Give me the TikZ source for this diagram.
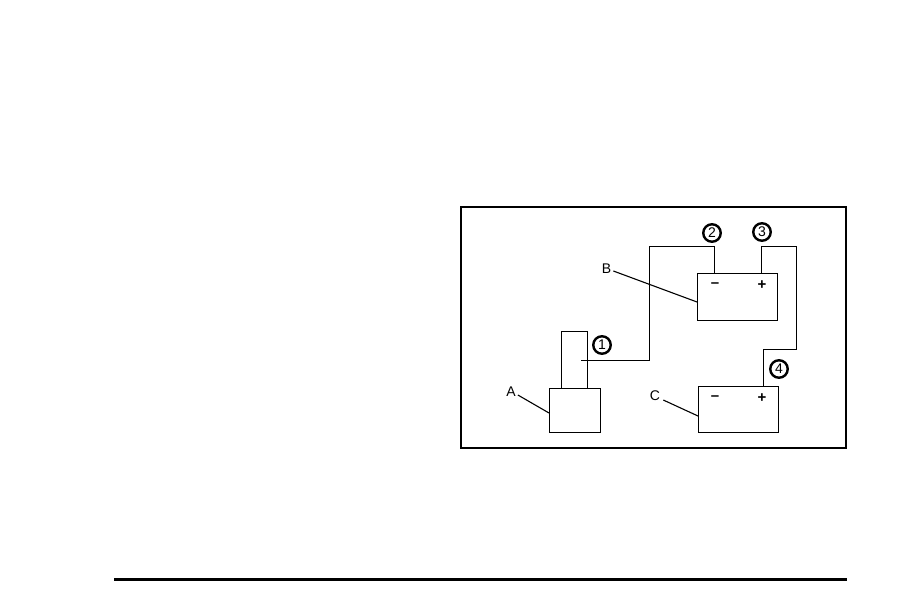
\documentclass[tikz,border=0pt]{standalone}
\usepackage{fontspec}
\setmainfont{Liberation Sans}
\begin{document}
\begin{tikzpicture}[x=1pt,y=-1pt,
  boxed/.style={draw=black,line width=1pt,inner sep=0pt,outer sep=0pt,minimum width=#1},
  wire/.style={draw=black,line width=1pt,line join=miter},
  leader/.style={draw=black,line width=1.1pt},
  callout/.style={circle,draw=black,line width=2.4pt,fill=white,inner sep=0pt,outer sep=0pt,minimum size=17.5pt,font=\fontsize{14}{14}\selectfont},
  letter/.style={inner sep=0pt,font=\fontsize{14}{14}\selectfont},
  term/.style={inner sep=0pt,font=\bfseries\fontsize{15}{15}\selectfont}]
\useasboundingbox (0,0) rectangle (918,612);
\node[draw=black,line width=2pt,outer sep=0pt,minimum width=385pt,minimum height=241pt,inner sep=0pt,anchor=north west] (frame) at (461,207) {};
\node[boxed=80pt,minimum height=46pt,anchor=north west] (battB) at (697,274) {};
\node[boxed=80pt,minimum height=46pt,anchor=north west] (battC) at (698,386) {};
\node[boxed=51pt,minimum height=44pt,anchor=north west] (boxA) at (549,388) {};
\node[boxed=26pt,minimum height=57pt,anchor=north west,line width=0.8pt] (sol) at (561,331) {};
\node[callout] (c1) at (602,345) {1};
\node[callout] (c2) at (712,233) {2};
\node[callout] (c3) at (762,232) {3};
\node[callout] (c4) at (779,369) {4};
\node[letter] (la) at (511,392) {A};
\node[letter] (lb) at (606.5,269) {B};
\node[letter] (lc) at (655,395.5) {C};
\node[term] (mb) at (715,285) {–};
\node[term] (pb) at (762,285) {+};
\node[term] (mc) at (715,398) {–};
\node[term] (pc) at (762,398) {+};
\coordinate (w1) at (581,360);
\coordinate (w2) at (649,247);
\coordinate (t2) at (714,274);
\coordinate (t3) at (761,274);
\coordinate (w3) at (796,247);
\coordinate (w4) at (796,349);
\coordinate (t4) at (763,386);
\coordinate (ea) at (549,413);
\coordinate (eb) at (697,302);
\coordinate (ec) at (698,416);
\draw[wire] (w1) -| (w2) -| (t2);
\draw[wire] (t3) |- (w3) -- (w4) -| (t4);
\draw[leader] (la.east)++(2,3) -- (ea);
\draw[leader] (lb.east)++(2,2) -- (eb);
\draw[leader] (lc.east)++(3,4.5) -- (ec);
\path[fill=black] (114,577.5) rectangle (847,580.5);
\end{tikzpicture}
\end{document}
